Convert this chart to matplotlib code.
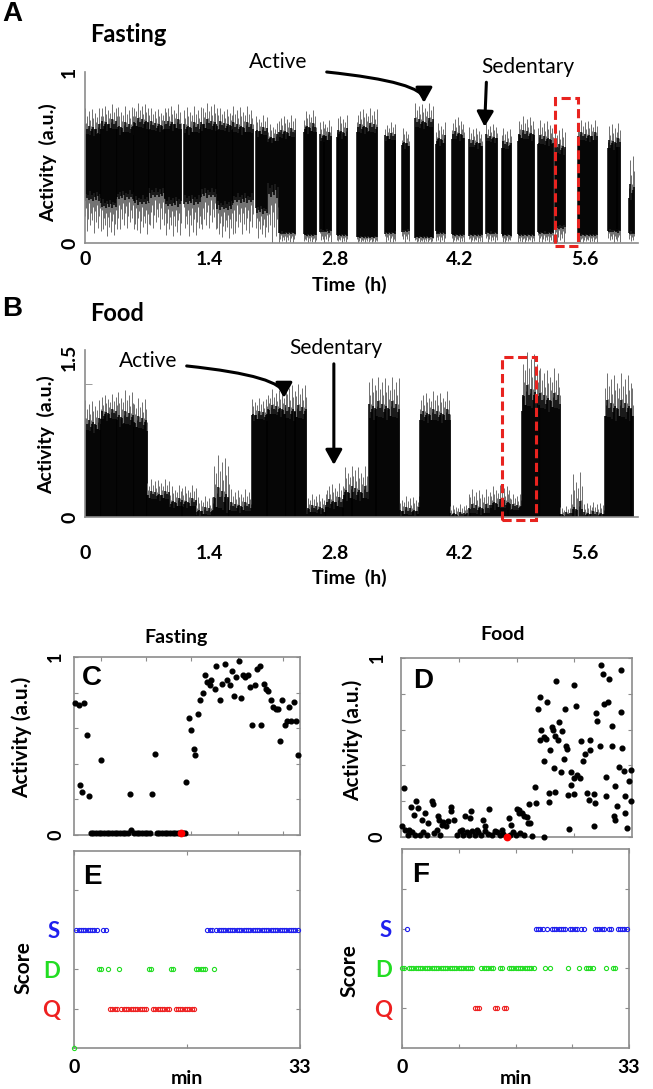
"""Activity traces and behavioural scores, fasting vs fed animals."""

import matplotlib

matplotlib.use("Agg")

import matplotlib.pyplot as plt
import numpy as np
from matplotlib.patches import Rectangle

# --- A: fasting trace, one entry per bout of the black core (time in h) ---
A_START = [0.00, 0.18, 0.36, 0.55, 0.72, 0.90, 1.11, 1.30, 1.48, 1.66,
           1.92, 2.05, 2.18, 2.46, 2.63, 2.82, 3.05, 3.36, 3.55, 3.70,
           3.94, 4.12, 4.31, 4.50, 4.67, 4.86, 5.08, 5.27, 5.53, 5.86, 6.10]
A_END = [0.18, 0.36, 0.55, 0.72, 0.90, 1.08, 1.30, 1.48, 1.66, 1.89,
         2.05, 2.16, 2.36, 2.60, 2.77, 2.95, 3.28, 3.49, 3.63, 3.90,
         4.05, 4.26, 4.46, 4.63, 4.79, 5.04, 5.25, 5.38, 5.74, 6.01, 6.16]
A_LOW = [0.24, 0.20, 0.25, 0.22, 0.26, 0.21, 0.22, 0.26, 0.19, 0.23,
         0.17, 0.26, 0.05, 0.04, 0.06, 0.04, 0.03, 0.05, 0.06, 0.03,
         0.05, 0.04, 0.04, 0.05, 0.04, 0.04, 0.05, 0.08, 0.04, 0.06, 0.05]
A_HIGH = [0.66, 0.69, 0.67, 0.70, 0.68, 0.69, 0.67, 0.69, 0.68, 0.67,
          0.65, 0.61, 0.64, 0.67, 0.62, 0.64, 0.67, 0.62, 0.58, 0.70,
          0.60, 0.63, 0.58, 0.61, 0.57, 0.63, 0.60, 0.55, 0.62, 0.58, 0.30]
A_FLOOR = [0.06, 0.04, 0.08, 0.05, 0.08, 0.04, 0.04, 0.08, 0.03, 0.05,
           0.03, 0.00, 0.00, 0.00, 0.00, 0.00, 0.00, 0.00, 0.00, 0.00,
           0.00, 0.00, 0.00, 0.00, 0.00, 0.00, 0.00, 0.00, 0.00, 0.00, 0.00]
A_PEAK = [0.79, 0.81, 0.80, 0.82, 0.79, 0.81, 0.80, 0.82, 0.79, 0.80,
          0.75, 0.70, 0.75, 0.78, 0.72, 0.75, 0.79, 0.71, 0.68, 0.82,
          0.71, 0.74, 0.68, 0.70, 0.67, 0.74, 0.72, 0.68, 0.72, 0.70, 0.52]

# --- B: fed trace, bouts from zero up to the black core (time in h) ---
B_START = [0.00, 0.18, 0.36, 0.55, 0.70, 0.95, 1.25, 1.45, 1.62,
           1.87, 2.05, 2.25, 2.49, 2.70, 2.90, 3.18, 3.53, 3.76,
           4.09, 4.30, 4.55, 4.78, 4.90, 5.10, 5.32, 5.45, 5.58, 5.83]
B_END = [0.18, 0.36, 0.55, 0.70, 0.95, 1.25, 1.45, 1.62, 1.87,
         2.05, 2.25, 2.49, 2.70, 2.90, 3.18, 3.53, 3.76, 4.09,
         4.30, 4.55, 4.78, 4.90, 5.10, 5.32, 5.45, 5.58, 5.83, 6.15]
B_HIGH = [0.86, 0.96, 0.92, 0.88, 0.20, 0.13, 0.05, 0.16, 0.09,
          0.95, 1.00, 0.98, 0.07, 0.13, 0.22, 1.00, 0.05, 0.95,
          0.02, 0.07, 0.12, 0.09, 1.12, 1.08, 0.02, 0.05, 0.02, 1.00]
B_PEAK = [1.10, 1.16, 1.19, 1.12, 0.36, 0.30, 0.20, 0.58, 0.26,
          1.12, 1.20, 1.25, 0.22, 0.32, 0.48, 1.32, 0.20, 1.18,
          0.12, 0.26, 0.30, 0.22, 1.55, 1.40, 0.10, 0.42, 0.14, 1.35]

HOUR_TICKS = [0, 1.4, 2.8, 4.2, 5.6]

# --- C: fasting, activity of the zoomed window (min, a.u.) ---
C_MIN = [0.19, 0.68, 1.46, 1.95, 0.88, 1.17, 2.14, 3.90, 8.13, 11.44,
         11.88, 16.41, 16.75, 17.14, 17.48, 17.73, 18.12, 18.46, 18.85, 19.09,
         19.48, 19.82, 20.06, 20.55, 20.79, 21.38, 21.67, 22.11, 22.40, 22.84,
         23.08, 23.38, 23.72, 24.06, 24.35, 24.69, 25.03, 25.42, 25.66, 26.05,
         26.40, 26.79, 27.17, 27.37, 27.71, 28.10, 28.39, 28.73, 29.07, 29.46,
         29.80, 30.05, 30.44, 30.78, 31.07, 31.36, 31.66, 32.14, 32.43, 32.73,
         2.44, 2.82, 3.21, 3.60, 3.99, 4.38, 4.77, 5.16, 5.55, 5.94,
         6.33, 6.72, 7.11, 7.50, 7.89, 8.38, 8.77, 9.16, 9.55, 9.93,
         10.32, 10.71, 11.10, 12.08, 12.47, 12.86, 13.25, 13.64, 14.03, 14.42,
         14.80, 15.19, 15.97, 16.27]
C_ACT = [0.74, 0.73, 0.74, 0.56, 0.28, 0.24, 0.22, 0.42, 0.23, 0.23,
         0.455, 0.30, 0.66, 0.59, 0.485, 0.45, 0.68, 0.76, 0.80, 0.90,
         0.86, 0.84, 0.87, 0.82, 0.95, 0.76, 0.85, 0.96, 0.87, 0.84,
         0.92, 0.78, 0.89, 0.98, 0.77, 0.90, 0.89, 0.90, 0.83, 0.62,
         0.84, 0.93, 0.95, 0.62, 0.85, 0.82, 0.81, 0.76, 0.72, 0.71,
         0.71, 0.53, 0.76, 0.62, 0.64, 0.72, 0.64, 0.75, 0.64, 0.45,
         0.013, 0.013, 0.013, 0.013, 0.013, 0.013, 0.013, 0.013, 0.013, 0.013,
         0.013, 0.013, 0.013, 0.013, 0.013, 0.026, 0.013, 0.013, 0.013, 0.013,
         0.013, 0.013, 0.013, 0.013, 0.013, 0.013, 0.013, 0.013, 0.013, 0.013,
         0.013, 0.013, 0.013, 0.013]
C_RED = (15.58, 0.013)

# --- D: fed, activity of the zoomed window (min, a.u.) ---
D_MIN = [28.57, 28.81, 29.67, 31.48, 22.13, 24.76, 19.84, 20.84, 19.56, 23.47,
         24.99, 27.86, 28.95, 29.53, 31.39, 28.00, 30.15, 20.03, 21.56, 21.70,
         22.51, 22.99, 21.94, 22.42, 19.80, 20.37, 20.70, 23.71, 23.56, 21.32,
         20.37, 27.05, 26.95, 26.33, 25.71, 26.04, 28.48, 30.15, 31.58, 21.80,
         22.85, 23.33, 24.33, 25.14, 24.66, 25.61, 24.33, 31.10, 31.82, 32.90,
         29.29, 30.53, 32.53, 22.04, 21.13, 21.08, 23.80, 24.66, 26.57, 27.52,
         26.90, 27.67, 29.29, 30.81, 32.05, 32.82, 19.18, 19.27, 18.22, 16.79,
         17.27, 17.98, 18.46, 32.05, 30.38, 30.62, 32.29, 27.52, 23.94, 20.46,
         0.43, 1.43, 2.15, 2.48, 1.91, 2.96, 3.43, 3.91, 4.48, 4.53,
         5.25, 5.49, 5.82, 6.06, 6.39, 6.77, 7.16, 7.11, 7.63, 8.68,
         9.16, 10.02, 9.87, 10.83, 11.78, 12.02, 12.64, 13.45, 14.41, 15.36,
         15.74, 16.55, 16.89, 17.51, 18.08,
         0.19, 0.57, 0.95, 1.14, 1.62, 2.00, 2.72, 3.20, 3.67, 4.77,
         5.10, 5.58, 7.97, 8.44, 8.92, 9.40, 9.73, 10.11, 10.59, 11.07,
         11.45, 11.93, 12.40, 12.97, 13.69, 14.17, 14.64, 15.60, 16.07, 16.41,
         17.03, 17.51, 18.70]
D_ACT = [0.963, 0.911, 0.883, 0.931, 0.873, 0.849, 0.784, 0.754, 0.715, 0.715,
         0.734, 0.693, 0.745, 0.752, 0.698, 0.646, 0.622, 0.596, 0.615, 0.600,
         0.641, 0.594, 0.562, 0.544, 0.544, 0.559, 0.547, 0.492, 0.507, 0.484,
         0.423, 0.540, 0.488, 0.466, 0.534, 0.426, 0.507, 0.507, 0.495, 0.385,
         0.361, 0.438, 0.361, 0.348, 0.330, 0.330, 0.292, 0.391, 0.367, 0.376,
         0.333, 0.287, 0.311, 0.250, 0.246, 0.194, 0.233, 0.242, 0.246, 0.240,
         0.209, 0.190, 0.227, 0.171, 0.227, 0.199, 0.279, 0.190, 0.186, 0.153,
         0.134, 0.112, 0.078, 0.134, 0.119, 0.093, 0.050, 0.060, 0.047, 0.000,
         0.274, 0.168, 0.199, 0.162, 0.125, 0.097, 0.134, 0.078, 0.199, 0.184,
         0.115, 0.093, 0.069, 0.084, 0.060, 0.088, 0.168, 0.143, 0.093, 0.041,
         0.115, 0.143, 0.106, 0.041, 0.093, 0.060, 0.156, 0.032, 0.041, 0.106,
         0.065, 0.156, 0.134, 0.115, 0.078,
         0.063, 0.041, 0.013, 0.041, 0.026, 0.013, 0.013, 0.026, 0.013, 0.022,
         0.041, 0.013, 0.013, 0.032, 0.013, 0.026, 0.013, 0.032, 0.013, 0.026,
         0.013, 0.032, 0.019, 0.013, 0.026, 0.013, 0.019, 0.013, 0.026, 0.013,
         0.022, 0.013, 0.004]
D_RED = (15.12, 0.0)

# --- E / F: score per sample, one sample every 0.33 min ---
SAMPLE_MIN = 0.33
E_STATES = ("0SSSSSSSSS" "SDDSSDQQQQ" "DQQQQQQQQQ" "QQQDDQQQQQ" "QQQDDQQQQQ"
            "QQQQDDDDDS" "SSDSSSSSSS" "SSSSSSSSSS" "SSSSSSSSSS" "SSSSSSSSSS")
F_STATES = ("DDSDDDDDDD" "DDDDDDDDDD" "DDDDDDDDDD" "DDQQQDDDDD" "DQQDDQQDDD"
            "DDDDDDDDDS" "SSSDSDSSSS" "SSSDSSSSDS" "SDDDDSSSSS" "DSSDDSSSSS")
STATE_LEVEL = {"0": 0, "Q": 1, "D": 2, "S": 3}
STATE_COLOR = {"0": "#22dd22", "Q": "#ee2020", "D": "#22dd22", "S": "#2020ee"}

W, H = 653, 1089
GRAY = "#8c8c8c"
SPIKE = "#6f6f6f"
RED = "#e8231f"
BODY = ["Lato", "DejaVu Sans"]
LETTER = ["Liberation Sans", "DejaVu Sans"]
# irregular stroke pattern used to render the noisy edge of a trace
TEXTURE = [1.0, 0.3, 0.65, 0.1, 0.85, 0.45, 0.2, 0.95, 0.55, 0.05, 0.75, 0.35, 0.6, 0.15]
STROKE_H = 0.011  # one stroke per ~1 px of time


def rect(x0, y0, x1, y1):
    """Axes rectangle from pixel corners of the 653x1089 canvas."""
    return [x0 / W, 1 - y1 / H, (x1 - x0) / W, (y1 - y0) / H]


def ftext(fig, x, y, s, **kw):
    fig.text(x / W, 1 - y / H, s, ha="center", va="center", **kw)


def draw_trace(ax, start, end, low, high, floor, peak):
    n = len(TEXTURE)
    k = 0
    for s, e, lo, hi, fl, pk in zip(start, end, low, high, floor, peak):
        xs = np.arange(s, e, STROKE_H)
        idx = np.arange(k, k + len(xs))
        k += len(xs)
        up = np.array([TEXTURE[i % n] for i in idx])
        dn = np.array([TEXTURE[(i + 5) % n] for i in idx])
        ink = np.array([TEXTURE[(i + 9) % n] for i in idx])
        # grey spikes reaching the peak / floor
        ax.vlines(xs, lo - dn * (lo - fl), hi + up * (pk - hi), color=SPIKE, lw=0.7)
        # dense black core with a ragged edge
        ax.vlines(xs, lo + 0.35 * ink * (lo - fl), hi - 0.35 * ink * (pk - hi) + 0.3 * up * (pk - hi),
                  color="black", lw=1.1)


def style_trace_axes(ax, ymax, yticks, ylabels, xpad):
    ax.set_xlim(0, 6.2)
    ax.set_ylim(0, ymax)
    for side in ("top", "right"):
        ax.spines[side].set_visible(False)
    for side in ("left", "bottom"):
        ax.spines[side].set_color(GRAY)
        ax.spines[side].set_linewidth(1.2)
    ax.set_xticks(HOUR_TICKS)
    ax.set_xticklabels([f"{t:g}" for t in HOUR_TICKS], fontsize=14, fontweight="bold")
    ax.tick_params(axis="x", length=0, pad=xpad)
    ax.set_yticks(yticks)
    ax.set_yticklabels(ylabels, rotation=90, va="center", fontsize=14, fontweight="bold")
    ax.tick_params(axis="y", length=0, pad=5)


def arrow(ax, tip, tail, curved):
    style = "angle3,angleA=-6,angleB=90" if curved else "arc3,rad=0"
    ax.annotate("", xy=tip, xytext=tail, annotation_clip=False,
                arrowprops=dict(arrowstyle="-|>,head_length=0.45,head_width=0.25",
                                mutation_scale=20, color="black", lw=2.2,
                                shrinkA=0, shrinkB=0, connectionstyle=style))


def style_box(ax, xlim, xticks, ylim, yticks):
    ax.set_xlim(*xlim)
    ax.set_ylim(*ylim)
    for sp in ax.spines.values():
        sp.set_color(GRAY)
        sp.set_linewidth(1.2)
    ax.set_xticks(xticks)
    ax.set_yticks(yticks)
    ax.tick_params(direction="in", length=3, color=GRAY, top=True, right=True)


def scatter_panel(ax, xs, ys, red, xticks, ypad):
    ax.plot(xs, ys, "o", color="black", ms=3.4, clip_on=False, zorder=3)
    ax.plot(*red, "o", color="red", ms=4.6, clip_on=False, zorder=4)
    style_box(ax, (0, 33), xticks, (0, 1), [0, 0.2, 0.4, 0.6, 0.8, 1])
    ax.set_xticklabels([])
    ax.set_yticklabels(["0", "", "", "", "", "1"], rotation=90, va="center",
                       fontsize=13, fontweight="bold")
    ax.tick_params(axis="y", pad=ypad)


def score_panel(ax, states, xticks, ypad):
    for code, level in STATE_LEVEL.items():
        xs = [i * SAMPLE_MIN for i, s in enumerate(states) if s == code]
        ax.plot(xs, [level] * len(xs), "o", mfc="none", mec=STATE_COLOR[code],
                ms=3.0, mew=0.8, clip_on=False, zorder=3)
    style_box(ax, (0, 33), xticks, (0, 5), [1, 2, 3, 4])
    ax.set_xticklabels(["0"] + [""] * (len(xticks) - 2) + ["33"],
                       fontsize=14, fontweight="bold")
    ax.set_yticklabels(["Q", "D", "S", ""], fontsize=16, fontweight="bold")
    for lab, code in zip(ax.get_yticklabels(), ["Q", "D", "S", "S"]):
        lab.set_color(STATE_COLOR[code])
    ax.tick_params(axis="x", pad=8)
    ax.tick_params(axis="y", pad=ypad)


def run():
    plt.rcParams["font.family"] = BODY
    fig = plt.figure(figsize=(W / 100, H / 100), dpi=100)

    # A: fasting trace
    ax_a = fig.add_axes(rect(85, 72, 638, 243))
    draw_trace(ax_a, A_START, A_END, A_LOW, A_HIGH, A_FLOOR, A_PEAK)
    style_trace_axes(ax_a, 1.0, [0, 1], ["0", "1"], xpad=6)
    ax_a.text(2.17, 1.06, "Active", fontsize=15, ha="center", va="center")
    ax_a.text(4.96, 1.03, "Sedentary", fontsize=15, ha="center", va="center")
    arrow(ax_a, (3.80, 0.82), (2.71, 1.0), curved=True)
    arrow(ax_a, (4.48, 0.68), (4.50, 0.94), curved=False)
    ax_a.add_patch(Rectangle((5.27, -0.02), 0.26, 0.87, fill=False, ec=RED,
                             lw=2.2, ls=(0, (3, 1.5)), clip_on=False, zorder=5))

    # B: fed trace
    ax_b = fig.add_axes(rect(85, 350, 638, 517))
    zeros = [0.0] * len(B_START)
    draw_trace(ax_b, B_START, B_END, zeros, B_HIGH, zeros, B_PEAK)
    style_trace_axes(ax_b, 1.57, [0, 1.5], ["0", "1.5"], xpad=20)
    ax_b.set_yticks([1.25], minor=True)
    ax_b.tick_params(axis="y", which="minor", length=5, color=GRAY, direction="in")
    ax_b.text(0.71, 1.47, "Active", fontsize=15, ha="center", va="center")
    ax_b.text(2.81, 1.59, "Sedentary", fontsize=15, ha="center", va="center")
    arrow(ax_b, (2.23, 1.12), (1.14, 1.42), curved=True)
    arrow(ax_b, (2.79, 0.49), (2.79, 1.44), curved=False)
    ax_b.add_patch(Rectangle((4.67, -0.03), 0.39, 1.53, fill=False, ec=RED,
                             lw=2.2, ls=(0, (3, 1.5)), clip_on=False, zorder=5))

    # C-F: zoomed windows and scores
    ax_c = fig.add_axes(rect(74, 657, 300, 835))
    scatter_panel(ax_c, C_MIN, C_ACT, C_RED, [3.9, 10.5, 17.1, 23.9, 30.5], ypad=7)
    ax_d = fig.add_axes(rect(401, 658, 632, 837))
    scatter_panel(ax_d, D_MIN, D_ACT, D_RED, [8.25, 16.5, 24.75], ypad=11)
    ax_e = fig.add_axes(rect(74, 851, 300, 1048))
    score_panel(ax_e, E_STATES, [0, 16.5, 33], ypad=10)
    ax_f = fig.add_axes(rect(402, 849, 629, 1048))
    score_panel(ax_f, F_STATES, [0, 8.25, 16.5, 24.75, 33], ypad=7)

    # free text
    bold = dict(fontweight="bold")
    ftext(fig, 12, 14, "A", fontsize=20, family=LETTER, **bold)
    ftext(fig, 12, 309, "B", fontsize=20, family=LETTER, **bold)
    fig.text(90 / W, 1 - 35 / H, "Fasting", fontsize=17, va="center", **bold)
    fig.text(90 / W, 1 - 313 / H, "Food", fontsize=17, va="center", **bold)
    ftext(fig, 48, 163, "Activity  (a.u.)", fontsize=14, rotation=90, **bold)
    ftext(fig, 46, 435, "Activity  (a.u.)", fontsize=14, rotation=90, **bold)
    ftext(fig, 349, 285, "Time  (h)", fontsize=14, **bold)
    ftext(fig, 349, 578, "Time  (h)", fontsize=14, **bold)
    ftext(fig, 176, 638, "Fasting", fontsize=14, **bold)
    ftext(fig, 503, 635, "Food", fontsize=14, **bold)
    ftext(fig, 22, 737, "Activity (a.u.)", fontsize=15, rotation=90, **bold)
    ftext(fig, 353, 740, "Activity (a.u.)", fontsize=15, rotation=90, **bold)
    ftext(fig, 23, 968, "Score", fontsize=15, rotation=90, **bold)
    ftext(fig, 349, 971, "Score", fontsize=15, rotation=90, **bold)
    ftext(fig, 187, 1078, "min", fontsize=14, **bold)
    ftext(fig, 516, 1078, "min", fontsize=14, **bold)
    for x, y, s in [(92, 678, "C"), (423, 681, "D"), (92, 877, "E"), (421, 875, "F")]:
        ftext(fig, x, y, s, fontsize=20, family=LETTER, **bold)

    fig.savefig("out.png", dpi=100)
    plt.close(fig)


if __name__ == "__main__":
    run()
